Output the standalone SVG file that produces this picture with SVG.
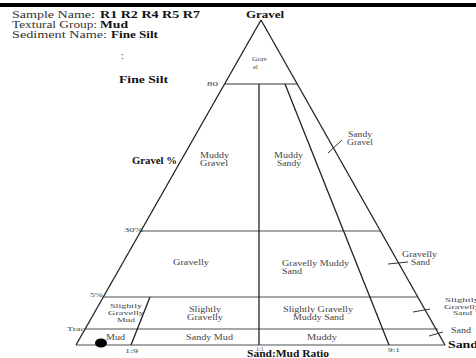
<svg xmlns="http://www.w3.org/2000/svg" width="476" height="358" viewBox="0 0 476 358">
<style>
.t{font-family:"Liberation Serif","Times New Roman",serif;font-size:10px;fill:#333}
.b{font-family:"Liberation Serif","Times New Roman",serif;font-size:10px;font-weight:bold;fill:#111}
.l{font-family:"Liberation Serif","Times New Roman",serif;font-size:8px;fill:#444}
.n{font-family:"Liberation Serif","Times New Roman",serif;font-size:7.4px;fill:#444}
.m{font-family:"Liberation Serif","Times New Roman",serif;font-size:7px;fill:#444}
.s{font-family:"Liberation Serif","Times New Roman",serif;font-size:7px;fill:#444}
.e{stroke:#222;stroke-width:1.3;fill:none}
.g{stroke:#888;stroke-width:1.6;fill:none}
.k{stroke:#333;stroke-width:1;fill:none}
</style>
<rect x="0" y="3" width="476" height="4" fill="#000"/>
<g id="header">
<text class="t" x="12" y="18" textLength="83" lengthAdjust="spacingAndGlyphs">Sample Name:</text>
<text class="b" x="100" y="18" textLength="100" lengthAdjust="spacingAndGlyphs">R1 R2 R4 R5 R7</text>
<text class="t" x="12" y="28" textLength="85" lengthAdjust="spacingAndGlyphs">Textural Group:</text>
<text class="b" x="100" y="28" textLength="28" lengthAdjust="spacingAndGlyphs">Mud</text>
<text class="t" x="12" y="38" textLength="95" lengthAdjust="spacingAndGlyphs">Sediment Name:</text>
<text class="b" x="111" y="38" textLength="47" lengthAdjust="spacingAndGlyphs">Fine Silt</text>
<text class="t" x="121" y="59">:</text>
<text class="b" x="119" y="83" textLength="49" lengthAdjust="spacingAndGlyphs">Fine Silt</text>
</g>
<g id="connectors">
<line class="g" x1="141" y1="231" x2="380" y2="231"/>
<line class="g" x1="103" y1="297" x2="418" y2="297"/>
<line class="g" x1="85" y1="329" x2="438" y2="329"/>
<line class="g" x1="76" y1="345" x2="445" y2="345"/>
<line class="e" x1="261" y1="20" x2="76" y2="345"/>
<line class="e" x1="261" y1="20" x2="445" y2="345"/>
<line class="k" x1="225" y1="84" x2="297" y2="84"/>
<line class="e" x1="259" y1="84" x2="259" y2="345"/>
<line class="e" x1="285" y1="84" x2="389" y2="345"/>
<line class="e" x1="150" y1="297" x2="131" y2="345"/>
<line class="k" x1="328" y1="153" x2="342" y2="140"/>
<line class="k" x1="388" y1="264" x2="408" y2="262"/>
<line class="k" x1="413" y1="312" x2="430" y2="309"/>
<line class="k" x1="429" y1="336" x2="443" y2="332"/>
</g>
<g id="axis-labels">
<text class="b" x="246" y="18" textLength="38" lengthAdjust="spacingAndGlyphs">Gravel</text>
<text class="b" x="132" y="164" textLength="45" lengthAdjust="spacingAndGlyphs">Gravel %</text>
<text class="s" x="207" y="86" textLength="11" lengthAdjust="spacingAndGlyphs">80</text>
<text class="s" x="124" y="232" textLength="19" lengthAdjust="spacingAndGlyphs">30%</text>
<text class="s" x="90" y="297" textLength="13" lengthAdjust="spacingAndGlyphs">5%</text>
<text class="s" x="67" y="331" textLength="18" lengthAdjust="spacingAndGlyphs">Trac</text>
<text class="s" x="125" y="353" textLength="13" lengthAdjust="spacingAndGlyphs">1:9</text>
<text class="s" x="256" y="351" textLength="8" lengthAdjust="spacingAndGlyphs">1:1</text>
<text class="s" x="388" y="352" textLength="12" lengthAdjust="spacingAndGlyphs">9:1</text>
<text class="b" x="247" y="357" textLength="82" lengthAdjust="spacingAndGlyphs">Sand:Mud Ratio</text>
<text class="b" x="448" y="348" textLength="30" lengthAdjust="spacingAndGlyphs">Sand</text>
</g>
<g id="gravel"><text class="s" x="252" y="61" textLength="15" lengthAdjust="spacingAndGlyphs">Grav</text><text class="s" x="253" y="69">el</text></g>
<g id="muddy-gravel"><text class="l" x="200" y="158" textLength="29" lengthAdjust="spacingAndGlyphs">Muddy</text><text class="l" x="200" y="166" textLength="28" lengthAdjust="spacingAndGlyphs">Gravel</text></g>
<g id="muddy-sandy"><text class="l" x="274" y="158" textLength="29" lengthAdjust="spacingAndGlyphs">Muddy</text><text class="l" x="277" y="166" textLength="24" lengthAdjust="spacingAndGlyphs">Sandy</text></g>
<g id="sandy-gravel"><text class="l" x="348" y="137" textLength="24" lengthAdjust="spacingAndGlyphs">Sandy</text><text class="l" x="347" y="145" textLength="26" lengthAdjust="spacingAndGlyphs">Gravel</text></g>
<g id="gravelly"><text class="l" x="173" y="265" textLength="36" lengthAdjust="spacingAndGlyphs">Gravelly</text></g>
<g id="gravelly-muddy-sand"><text class="n" x="282" y="266" textLength="67" lengthAdjust="spacingAndGlyphs">Gravelly Muddy</text><text class="n" x="282" y="273.5" textLength="20" lengthAdjust="spacingAndGlyphs">Sand</text></g>
<g id="gravelly-sand"><text class="n" x="402" y="257" textLength="35" lengthAdjust="spacingAndGlyphs">Gravelly</text><text class="n" x="411" y="264.5" textLength="19" lengthAdjust="spacingAndGlyphs">Sand</text></g>
<g id="slightly-gravelly-mud"><text class="m" x="110" y="308" textLength="32" lengthAdjust="spacingAndGlyphs">Slightly</text><text class="m" x="108" y="315" textLength="36" lengthAdjust="spacingAndGlyphs">Gravelly</text><text class="m" x="117" y="322" textLength="18" lengthAdjust="spacingAndGlyphs">Mud</text></g>
<g id="slightly-gravelly"><text class="n" x="189" y="312" textLength="32" lengthAdjust="spacingAndGlyphs">Slightly</text><text class="n" x="187" y="319.5" textLength="36" lengthAdjust="spacingAndGlyphs">Gravelly</text></g>
<g id="slightly-gravelly-muddy-sand"><text class="n" x="283" y="312" textLength="70" lengthAdjust="spacingAndGlyphs">Slightly Gravelly</text><text class="n" x="293" y="319.5" textLength="51" lengthAdjust="spacingAndGlyphs">Muddy Sand</text></g>
<g id="slightly-gravelly-sand"><text class="m" x="445" y="302" textLength="34" lengthAdjust="spacingAndGlyphs">Slightly</text><text class="m" x="444" y="308.5" textLength="36" lengthAdjust="spacingAndGlyphs">Gravelly</text><text class="m" x="453" y="315" textLength="19" lengthAdjust="spacingAndGlyphs">Sand</text></g>
<g id="mud"><text class="l" x="106" y="340" textLength="19" lengthAdjust="spacingAndGlyphs">Mud</text></g>
<g id="sandy-mud"><text class="l" x="186" y="340" textLength="47" lengthAdjust="spacingAndGlyphs">Sandy Mud</text></g>
<g id="muddy"><text class="l" x="307" y="340" textLength="30" lengthAdjust="spacingAndGlyphs">Muddy</text></g>
<g id="sand"><text class="l" x="451" y="333" textLength="20" lengthAdjust="spacingAndGlyphs">Sand</text></g>
<g id="sample"><ellipse cx="101" cy="343" rx="6" ry="4.5" fill="#000"/></g>
</svg>
